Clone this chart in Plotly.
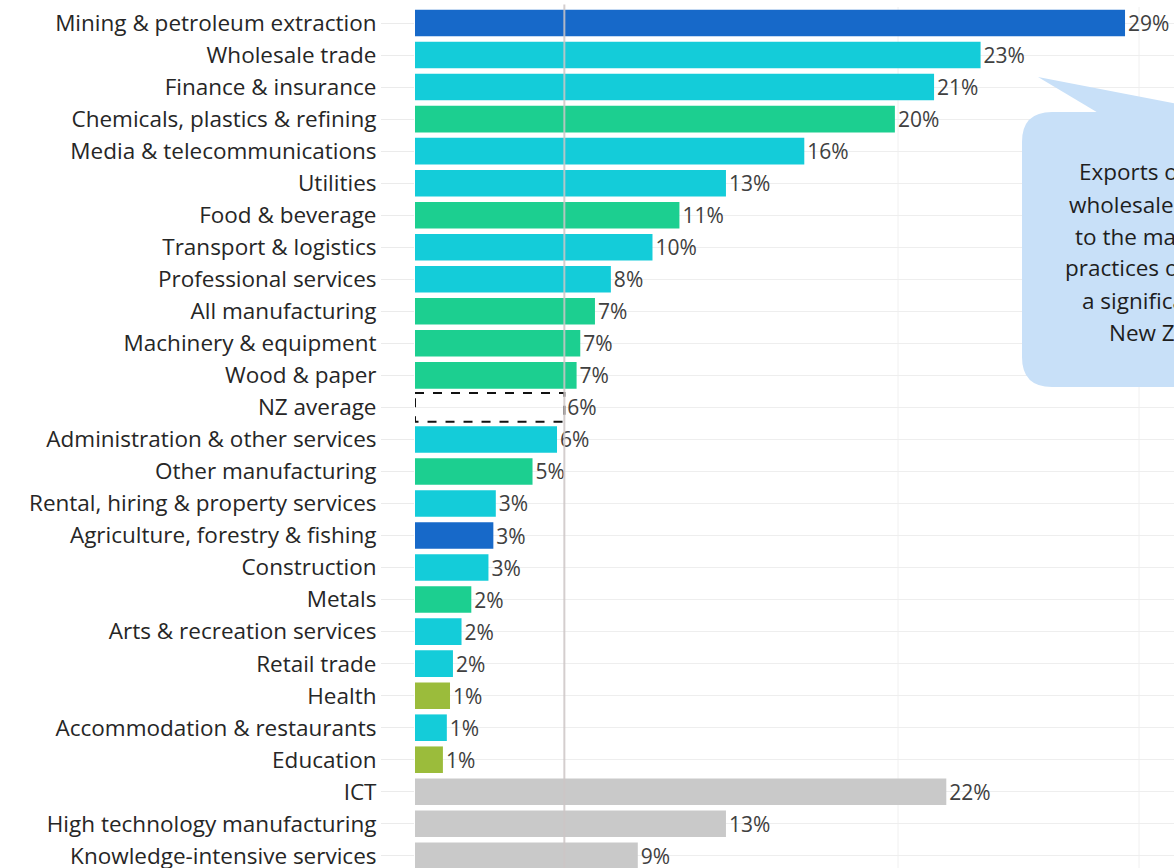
import plotly.graph_objects as go

# ---------------- data ----------------
categories = [
    "Mining & petroleum extraction", "Wholesale trade", "Finance & insurance",
    "Chemicals, plastics & refining", "Media & telecommunications", "Utilities",
    "Food & beverage", "Transport & logistics", "Professional services",
    "All manufacturing", "Machinery & equipment", "Wood & paper", "NZ average",
    "Administration & other services", "Other manufacturing",
    "Rental, hiring & property services", "Agriculture, forestry & fishing",
    "Construction", "Metals", "Arts & recreation services", "Retail trade",
    "Health", "Accommodation & restaurants", "Education", "ICT",
    "High technology manufacturing", "Knowledge-intensive services",
]
values = [
    29.0, 23.1, 21.2, 19.6, 15.9, 12.7, 10.8, 9.7, 8.0, 7.35, 6.75, 6.6, 6.1,
    5.8, 4.8, 3.3, 3.2, 3.0, 2.3, 1.9, 1.55, 1.43, 1.3, 1.14, 21.7, 12.7, 9.1,
]
groups = [
    "primary", "services", "services", "manufacturing", "services", "services",
    "manufacturing", "services", "services", "manufacturing", "manufacturing",
    "manufacturing", "average", "services", "manufacturing", "services",
    "primary", "services", "manufacturing", "services", "services", "public",
    "services", "public", "aggregate", "aggregate", "aggregate",
]
group_colors = {
    "primary": "#1769c9",
    "services": "#14ccd9",
    "manufacturing": "#1ccf90",
    "public": "#9bbc3b",
    "aggregate": "#c9c9c9",
    "average": "rgba(0,0,0,0)",
}
callout_lines = [
    "Exports of services from",
    "wholesale trade firms relate",
    "to the management",
    "practices of firms that have",
    "a significant presence in",
    "New Zealand",
]

# ---------------- layout constants ----------------
W, H = 1174, 868
ML, MT = 415, 7
FONT = "Open Sans"
x_max = 31.0
n = len(categories)


def px2x(px):
    return (px - ML) / (W - ML)


def py2y(py):
    return 1 - (py - MT) / (H - MT)


fig = go.Figure()
fig.add_trace(go.Bar(
    y=categories, x=values, orientation="h",
    marker=dict(color=[group_colors[g] for g in groups], line=dict(width=0)),
    width=0.83,
    text=[f"{round(v)}%" for v in values],
    textposition="outside",
    textfont=dict(family=FONT, size=21, color="#404040"),
    constraintext="none", cliponaxis=False, hoverinfo="skip",
))

shapes = []
# faint background vertical rules
for bx in [898, 1139]:
    shapes.append(dict(type="line", xref="paper", yref="paper", x0=px2x(bx), x1=px2x(bx),
                       y0=0, y1=1, line=dict(color="#f0f0f0", width=1), layer="below"))

# NZ average dashed box and reference line
nz_idx = categories.index("NZ average")
nz_val = values[nz_idx]
shapes.append(dict(type="rect", xref="x", yref="y", x0=0, x1=nz_val,
                   y0=nz_idx - 0.45, y1=nz_idx + 0.45,
                   line=dict(color="#111111", width=2, dash="dash"),
                   fillcolor="rgba(0,0,0,0)", layer="above"))
shapes.append(dict(type="line", xref="x", yref="paper", x0=nz_val, x1=nz_val,
                   y0=0, y1=1.003, line=dict(color="rgba(205,198,198,0.85)", width=2),
                   layer="above"))

# callout bubble
bx0, bx1, by0, by1, r = 1022, 1280, 112, 387, 30
pts = [
    f"M{px2x(bx0 + r)},{py2y(by0)}",
    f"L{px2x(bx1)},{py2y(by0)}",
    f"L{px2x(bx1)},{py2y(by1)}",
    f"L{px2x(bx0 + r)},{py2y(by1)}",
    f"Q{px2x(bx0)},{py2y(by1)} {px2x(bx0)},{py2y(by1 - r)}",
    f"L{px2x(bx0)},{py2y(by0 + r)}",
    f"Q{px2x(bx0)},{py2y(by0)} {px2x(bx0 + r)},{py2y(by0)}",
    "Z",
]
shapes.append(dict(type="path", xref="paper", yref="paper", path=" ".join(pts),
                   fillcolor="#c8e0f8", line=dict(width=0), layer="above"))
tail = (f"M{px2x(1100)},{py2y(114)} L{px2x(1038)},{py2y(77)} "
        f"L{px2x(1230)},{py2y(114)} Z")
shapes.append(dict(type="path", xref="paper", yref="paper", path=tail,
                   fillcolor="#c8e0f8", line=dict(width=0), layer="above"))

annotations = []
line_left = [1077, 1067, 1073, 1063, 1080, 1107]
line_y0, line_step = 172, 32
for i, (txt, lx) in enumerate(zip(callout_lines, line_left)):
    annotations.append(dict(
        text=txt, xref="paper", yref="paper", x=px2x(lx), y=py2y(line_y0 + i * line_step),
        xanchor="left", yanchor="middle", showarrow=False,
        font=dict(family=FONT, size=22.5, color="#1e1e1e"),
    ))

fig.update_layout(
    width=W, height=H,
    margin=dict(l=ML, r=0, t=MT, b=0, pad=0, autoexpand=False),
    plot_bgcolor="white", paper_bgcolor="white",
    showlegend=False,
    shapes=shapes, annotations=annotations,
    xaxis=dict(range=[0, x_max], showgrid=False, zeroline=False, automargin=False,
               showticklabels=False, ticks="", showline=False),
    yaxis=dict(categoryorder="array", categoryarray=categories, automargin=False,
               range=[n - 1 + 0.38, -0.5], showgrid=True, gridcolor="#eeeeee",
               gridwidth=1, zeroline=False, showline=False,
               ticks="outside", ticklen=33, tickcolor="#ebebeb",
               tickfont=dict(family=FONT, size=22.5, color="#262626")),
)

fig.write_html("out.html", config={"displayModeBar": False},
               post_script="document.body.style.margin='0';document.body.style.overflow='hidden';")
